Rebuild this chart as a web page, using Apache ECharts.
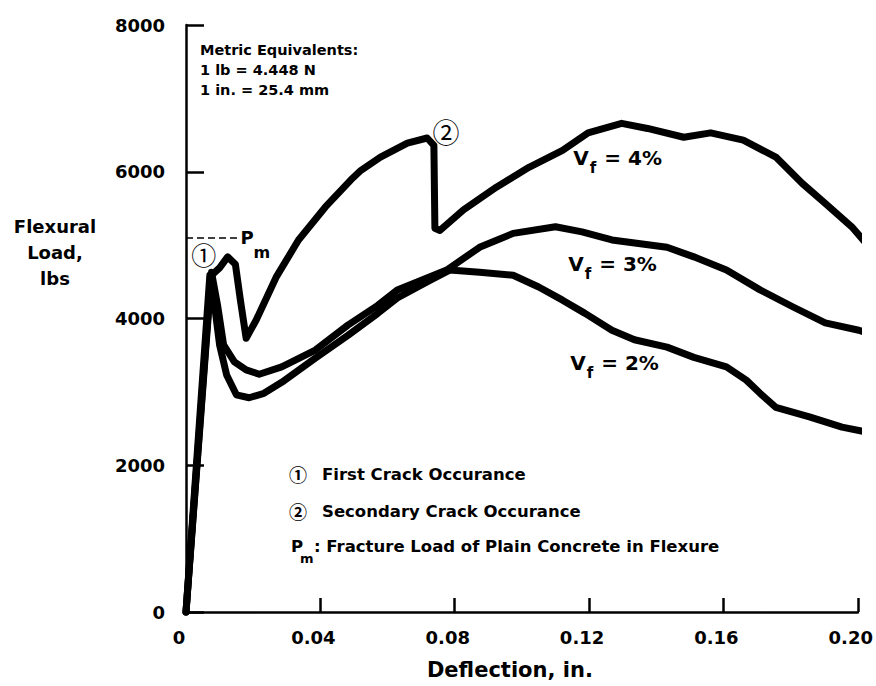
<!DOCTYPE html>
<html>
<head>
<meta charset="utf-8">
<script src="https://cdn.jsdelivr.net/npm/echarts@6/dist/echarts.min.js"></script>
<style>
  html, body { margin: 0; padding: 0; background: #fff; }
  #flexure_con { width: 876px; height: 686px; }
</style>
</head>
<body>
<div id="flexure_con"></div>
<script>
// deflection (in.) and flexural load (lbs)
const defl4 = [0, 0.0074, 0.0100, 0.0124, 0.0147, 0.0162, 0.0179, 0.0209, 0.0268, 0.0335, 0.0415, 0.0491, 0.0521, 0.0579, 0.0659, 0.0718, 0.0738, 0.0741, 0.0756, 0.0826, 0.0924, 0.1021, 0.1121, 0.1197, 0.1297, 0.1374, 0.1482, 0.1562, 0.1659, 0.1756, 0.1835, 0.1903, 0.1982, 0.2029];
const load4 = [0, 4580, 4690, 4840, 4740, 4250, 3730, 3980, 4560, 5070, 5520, 5890, 6020, 6200, 6390, 6460, 6360, 5230, 5200, 5480, 5790, 6060, 6290, 6530, 6660, 6590, 6470, 6530, 6430, 6200, 5840, 5570, 5250, 5000];

const defl3 = [0, 0.0076, 0.0094, 0.0112, 0.0144, 0.0179, 0.0218, 0.0285, 0.0385, 0.0482, 0.0571, 0.0629, 0.0776, 0.0874, 0.0974, 0.1100, 0.1179, 0.1268, 0.1432, 0.1512, 0.1609, 0.1709, 0.1806, 0.1903, 0.2003, 0.2029];
const load3 = [0, 4630, 4180, 3640, 3410, 3300, 3240, 3340, 3570, 3910, 4180, 4390, 4660, 4970, 5160, 5250, 5180, 5070, 4970, 4840, 4660, 4390, 4160, 3940, 3840, 3800];

const defl2 = [0, 0.0071, 0.0085, 0.0100, 0.0121, 0.0150, 0.0188, 0.0232, 0.0285, 0.0385, 0.0482, 0.0571, 0.0629, 0.0726, 0.0785, 0.0874, 0.0974, 0.1050, 0.1121, 0.1188, 0.1268, 0.1335, 0.1432, 0.1512, 0.1609, 0.1668, 0.1709, 0.1756, 0.1856, 0.1953, 0.2029];
const load2 = [0, 4590, 4180, 3640, 3230, 2960, 2920, 2980, 3130, 3460, 3770, 4070, 4280, 4520, 4660, 4630, 4590, 4430, 4250, 4070, 3840, 3710, 3610, 3470, 3340, 3160, 2980, 2790, 2660, 2520, 2450];

const pmLoad = 5100;

const FONT = "'DejaVu Sans', 'Liberation Sans', sans-serif";
const CIRC = "'Noto Sans CJK JP', 'DejaVu Sans', sans-serif";

function zip(xs, ys) {
    let out = [];
    for (let i = 0; i < xs.length; i++) {
        out.push([xs[i], ys[i]]);
    }
    return out;
}

function curve(name, xs, ys) {
    return {
        name: name,
        type: 'line',
        data: zip(xs, ys),
        showSymbol: false,
        symbol: 'none',
        clip: false,
        silent: true,
        lineStyle: { color: '#000', width: 7, join: 'round', cap: 'round' }
    };
}

function note(x, y, label) {
    return {
        type: 'scatter',
        symbolSize: 0,
        silent: true,
        clip: false,
        itemStyle: { opacity: 1, color: '#000' },
        data: [[x, y]],
        label: Object.assign({ show: true, position: 'inside', color: '#000', textBorderWidth: 0 }, label)
    };
}

const vfRich = {
    v: { fontFamily: FONT, fontWeight: 'bold', fontSize: 20, lineHeight: 22, verticalAlign: 'top', color: '#000' },
    f: { fontFamily: FONT, fontWeight: 'bold', fontSize: 15, lineHeight: 40, verticalAlign: 'middle', color: '#000', padding: [0, 1, 0, 1] },
    t: { fontFamily: FONT, fontWeight: 'bold', fontSize: 20, lineHeight: 22, verticalAlign: 'top', color: '#000' }
};

function vfLabel(x, y, pct) {
    return note(x, y, { position: 'right', distance: 0, formatter: '{v|V}{f|f}{t| = ' + pct + '}', rich: vfRich });
}

function txt(x, y, text, font, align) {
    return {
        type: 'text', x: x, y: y, silent: true,
        style: { text: text, font: font, fill: '#000', align: align || 'left', verticalAlign: 'middle', textAlign: align || 'left', textVerticalAlign: 'middle' }
    };
}

let s4 = curve('Vf = 4%', defl4, load4);
s4.markLine = {
    symbol: 'none',
    silent: true,
    label: { show: false },
    lineStyle: { color: '#000', width: 1.5, type: [7, 4] },
    data: [[{ coord: [0, pmLoad] }, { coord: [0.0153, pmLoad] }]]
};

let option = {
    animation: false,
    backgroundColor: '#fff',
    grid: { left: 186, right: 10, top: 25, bottom: 74 },
    xAxis: {
        type: 'value',
        min: 0,
        max: 0.20,
        interval: 0.04,
        name: 'Deflection, in.',
        nameLocation: 'middle',
        nameGap: 47,
        nameTextStyle: { fontFamily: FONT, fontWeight: 'bold', fontSize: 21, color: '#000', padding: [0, 24, 0, 0] },
        splitLine: { show: false },
        axisLine: { lineStyle: { color: '#000', width: 2.5 } },
        axisTick: { inside: true, length: 14, lineStyle: { color: '#000', width: 2.5 } },
        axisLabel: {
            fontFamily: FONT, fontWeight: 'bold', fontSize: 18, color: '#000',
            margin: 16,
            padding: [0, 14, 0, 0],
            showMinLabel: true, showMaxLabel: true,
            formatter: function (v) { return v === 0 ? '0' : v.toFixed(2); }
        }
    },
    yAxis: {
        type: 'value',
        min: 0,
        max: 8000,
        interval: 2000,
        splitLine: { show: false },
        axisLine: { show: true, lineStyle: { color: '#000', width: 2.5 } },
        axisTick: { show: true, inside: true, length: 18, lineStyle: { color: '#000', width: 2.5 } },
        axisLabel: {
            fontFamily: FONT, fontWeight: 'bold', fontSize: 18, color: '#000', margin: 21,
            formatter: function (v) { return String(v); }
        }
    },
    series: [
        s4,
        curve('Vf = 3%', defl3, load3),
        curve('Vf = 2%', defl2, load2),
        note(0.0053, 4877, { formatter: '①', fontFamily: CIRC, fontSize: 25 }),
        note(0.0774, 6553, { formatter: '②', fontFamily: CIRC, fontSize: 27 }),
        note(0.0162, 4905, {
            position: 'right', distance: 0, formatter: '{p|P}{m|m}',
            rich: {
                p: { fontFamily: FONT, fontWeight: 'bold', fontSize: 18, lineHeight: 22, verticalAlign: 'top', color: '#000' },
                m: { fontFamily: FONT, fontWeight: 'bold', fontSize: 16, lineHeight: 48, verticalAlign: 'middle', color: '#000' }
            }
        }),
        vfLabel(0.1153, 6050, '4%'),
        vfLabel(0.1138, 4605, '3%'),
        vfLabel(0.1144, 3256, '2%')
    ],
    graphic: [
        {
            type: 'text', x: 200, y: 40, silent: true,
            style: { text: 'Metric Equivalents:\n1 lb = 4.448 N\n1 in. = 25.4 mm', font: 'bold 14.5px ' + FONT, fill: '#000', lineHeight: 20, align: 'left', verticalAlign: 'top', textAlign: 'left', textVerticalAlign: 'top' }
        },
        {
            type: 'text', x: 55, y: 213, silent: true,
            style: { text: 'Flexural\nLoad,\nlbs', font: 'bold 18px ' + FONT, fill: '#000', lineHeight: 26, align: 'center', verticalAlign: 'top', textAlign: 'center', textVerticalAlign: 'top' }
        },
        txt(298, 474, '①', 'bold 18px ' + CIRC, 'center'),
        txt(322, 474, 'First Crack Occurance', 'bold 16.5px ' + FONT),
        txt(298, 511, '②', 'bold 18px ' + CIRC, 'center'),
        txt(322, 511, 'Secondary Crack Occurance', 'bold 16.5px ' + FONT),
        txt(291, 546, 'P', 'bold 16.5px ' + FONT),
        txt(300, 558, 'm', 'bold 13px ' + FONT),
        txt(314, 546, ': Fracture Load of Plain Concrete in Flexure', 'bold 16.5px ' + FONT)
    ]
};

const flexureChart = echarts.init(document.getElementById('flexure_con'), null, { renderer: 'svg' });
flexureChart.setOption(option);
</script>
</body>
</html>
